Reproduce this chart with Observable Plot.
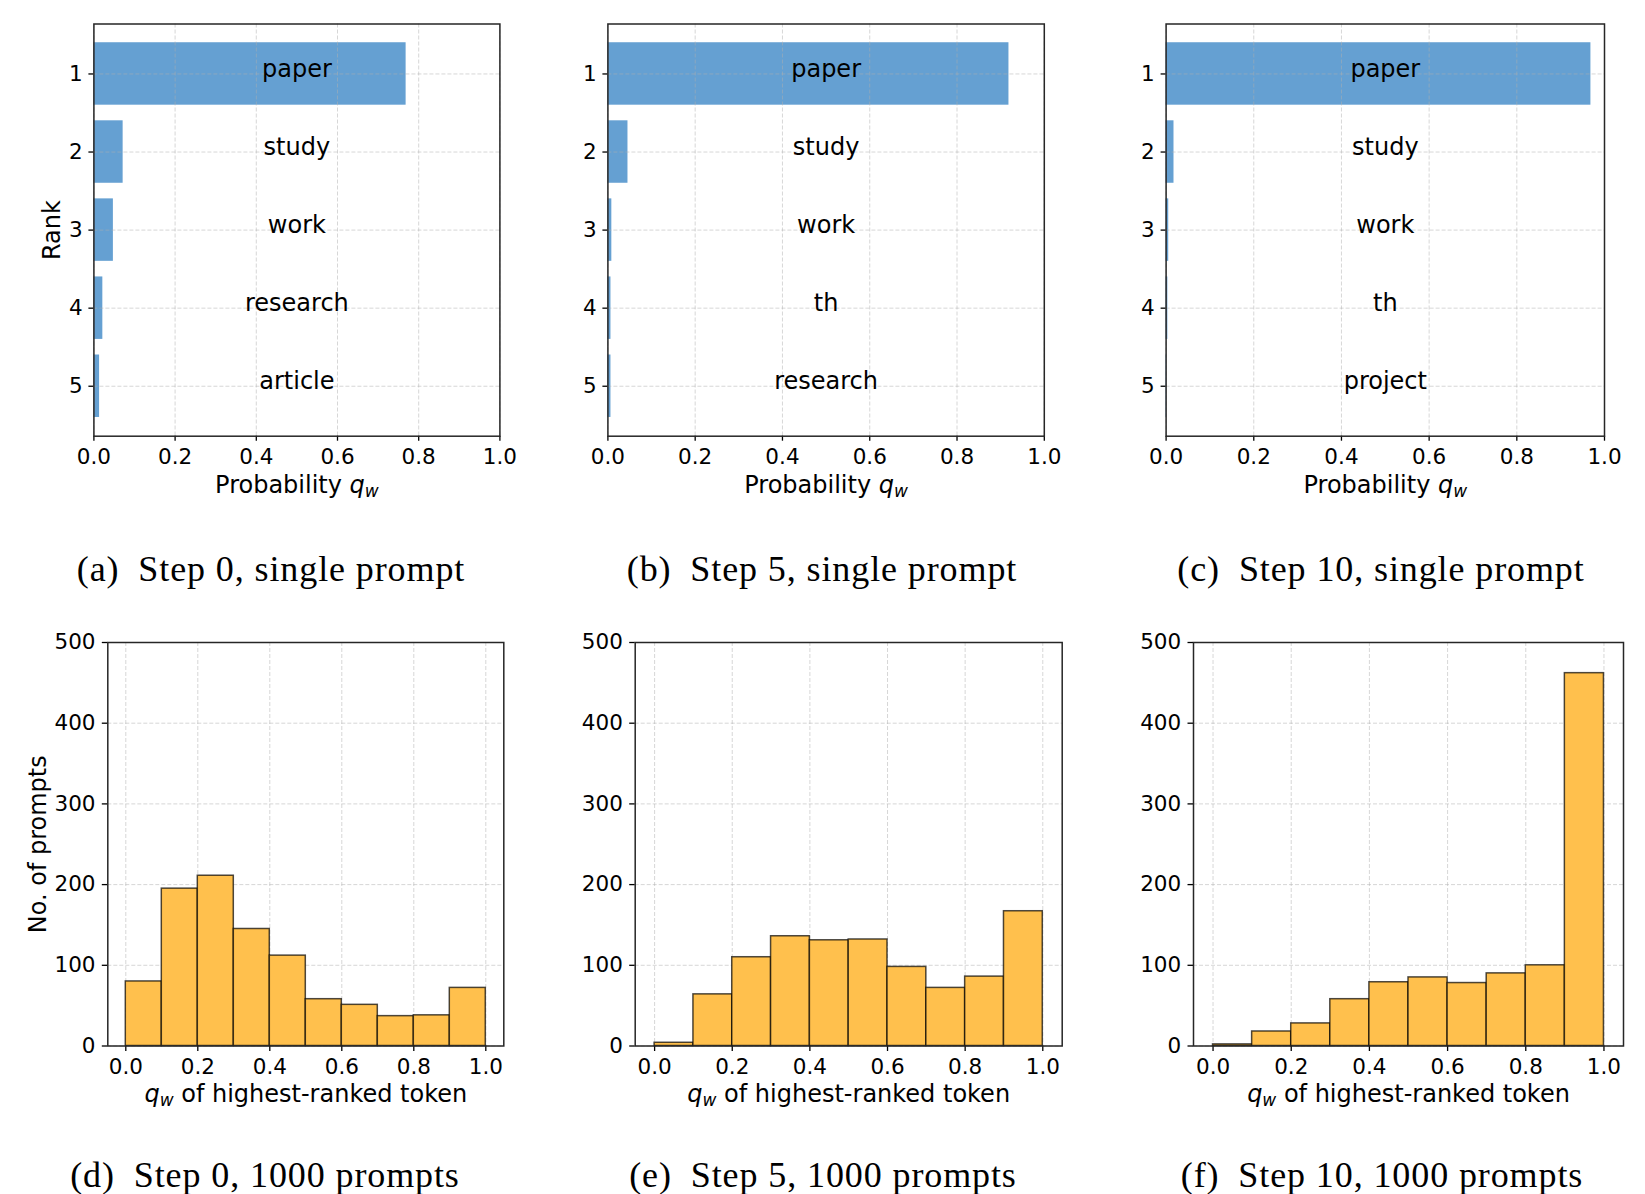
<!DOCTYPE html>
<html><head><meta charset="utf-8">
<script src="https://cdn.jsdelivr.net/npm/d3@7"></script>
<script src="https://cdn.jsdelivr.net/npm/@observablehq/plot@0.6"></script>
<style>
body{margin:0;background:#fff;}
#root{position:relative;width:1645px;height:1194px;background:#fff;overflow:hidden;}
.panel{position:absolute;}
.panel svg{overflow:visible;}
.cap{position:absolute;font-family:"Liberation Serif","Times New Roman",serif;font-size:36px;line-height:36px;letter-spacing:0.9px;white-space:pre;color:#000;transform:translateX(-50%);}
</style></head><body><div id="root"></div>
<script>
// ---------------- data ----------------
const ranks = [1, 2, 3, 4, 5];
const tokensStep0 = ["paper", "study", "work", "research", "article"];
const probsStep0 = [0.769, 0.072, 0.048, 0.022, 0.014];
const tokensStep5 = ["paper", "study", "work", "th", "research"];
const probsStep5 = [0.919, 0.046, 0.009, 0.007, 0.007];
const tokensStep10 = ["paper", "study", "work", "th", "project"];
const probsStep10 = [0.969, 0.018, 0.006, 0.004, 0.001];

const binStarts = [0.0, 0.1, 0.2, 0.3, 0.4, 0.5, 0.6, 0.7, 0.8, 0.9];
const binWidth = 0.1;
const countsStep0 = [80, 195, 211, 145, 112, 58, 51, 37, 38, 72];
const countsStep5 = [4, 64, 110, 136, 131, 132, 98, 72, 86, 167];
const countsStep10 = [2, 18, 28, 58, 79, 85, 78, 90, 100, 462];

const probTicks = [0.0, 0.2, 0.4, 0.6, 0.8, 1.0];
const countTicks = [0, 100, 200, 300, 400, 500];

const topXLabel = "Probability q_w";
const rankLabel = "Rank";
const bottomXLabel = "q_w of highest-ranked token";
const countLabel = "No. of prompts";
const topCaptions = ["(a)\u2002Step 0, single prompt", "(b)\u2002Step 5, single prompt", "(c)\u2002Step 10, single prompt"];
const bottomCaptions = ["(d)\u2002Step 0, 1000 prompts", "(e)\u2002Step 5, 1000 prompts", "(f)\u2002Step 10, 1000 prompts"];

// ---------------- style ----------------
const BLUE = "#65a0d2";
const ORANGE = "#ffc04d";
const GRID = {stroke: "#b0b0b0", strokeOpacity: 0.5, strokeDasharray: "4,2", strokeWidth: 1};
const FONT = "DejaVu Sans";

const root = document.getElementById("root");

function richLabel(svg) {
  const NS = "http://www.w3.org/2000/svg";
  svg.querySelectorAll("text").forEach(t => {
    const s = t.textContent;
    if (!s.includes("q_w")) return;
    const [pre, post] = s.split("q_w");
    while (t.firstChild) t.removeChild(t.firstChild);
    const add = (txt, attrs) => {
      const ts = document.createElementNS(NS, "tspan");
      for (const k in attrs) ts.setAttribute(k, attrs[k]);
      ts.textContent = txt;
      t.appendChild(ts);
    };
    if (pre) add(pre, {});
    add("q", {"font-style": "italic"});
    add("w", {"font-style": "italic", "font-size": "17", "dy": "4"});
    if (post) add(post, {"dy": "-4"});
  });
}

function place(svg, lay) {
  const div = document.createElement("div");
  div.className = "panel";
  div.style.left = lay.left + "px";
  div.style.top = lay.top + "px";
  div.appendChild(svg);
  root.appendChild(div);
  richLabel(svg);
}

function caption(text, cx, baseline) {
  const d = document.createElement("div");
  d.className = "cap";
  d.textContent = text;
  d.style.left = cx + "px";
  d.style.top = (baseline - 30) + "px";
  root.appendChild(d);
}

// ---------------- top: rank bars ----------------
const topLayouts = [
  {left: 0, top: 0, width: 520, height: 510, marginLeft: 93.4, marginRight: 20.6, marginTop: 23.5, marginBottom: 74.3, rankLabel: true},
  {left: 540, top: 0, width: 530, height: 510, marginLeft: 67.4, marginRight: 26.2, marginTop: 23.5, marginBottom: 74.3},
  {left: 1100, top: 0, width: 545, height: 510, marginLeft: 65.6, marginRight: 41, marginTop: 23.5, marginBottom: 74.3}
];
const topSeries = [[tokensStep0, probsStep0], [tokensStep5, probsStep5], [tokensStep10, probsStep10]];

topSeries.forEach(([tokens, probs], i) => {
  const lay = topLayouts[i];
  const data = ranks.map((r, j) => ({rank: r, token: tokens[j], p: probs[j]}));
  const marks = [
    Plot.rect(data, {x1: 0, x2: "p", y1: d => d.rank - 0.4, y2: d => d.rank + 0.4, fill: BLUE}),
    Plot.gridX(probTicks, GRID),
    Plot.gridY(ranks, GRID),
    Plot.text(data, {y: "rank", text: "token", fontSize: 24, textAnchor: "middle", lineAnchor: "bottom", dy: 3, fill: "#000"}),
    Plot.axisX(probTicks, {tickFormat: d3.format(".1f"), tickSize: 5, tickPadding: 7.4, strokeWidth: 1.3, label: null, fontSize: 21.5}),
    Plot.axisY(ranks, {tickFormat: d => String(d), tickSize: 5, tickPadding: 6.3, strokeWidth: 1.3, label: null, fontSize: 21.5}),
    Plot.text([topXLabel], {frameAnchor: "bottom", textAnchor: "middle", lineAnchor: "bottom", dy: 57, fontSize: 24, fill: "#000"}),
    Plot.frame({stroke: "#262626", strokeWidth: 1.5})
  ];
  if (lay.rankLabel) {
    marks.push(Plot.text([rankLabel], {frameAnchor: "left", rotate: -90, textAnchor: "middle", lineAnchor: "bottom", dx: -34.1, fontSize: 24, fill: "#000"}));
  }
  const svg = Plot.plot({
    width: lay.width, height: lay.height,
    marginLeft: lay.marginLeft, marginRight: lay.marginRight, marginTop: lay.marginTop, marginBottom: lay.marginBottom,
    style: {fontFamily: FONT, fontSize: "21px", color: "#000", background: "transparent"},
    x: {domain: [0, 1]},
    y: {domain: [0.36, 5.64], reverse: true},
    marks
  });
  place(svg, lay);
});

// ---------------- bottom: histograms ----------------
const bottomLayouts = [
  {left: 0, top: 600, width: 530, height: 510, marginLeft: 107.3, marginRight: 26.7, marginTop: 42, marginBottom: 64.5, countLabel: true},
  {left: 560, top: 600, width: 520, height: 510, marginLeft: 74.7, marginRight: 18.3, marginTop: 42, marginBottom: 64.5},
  {left: 1120, top: 600, width: 525, height: 510, marginLeft: 73, marginRight: 22, marginTop: 42, marginBottom: 64.5}
];
const bottomSeries = [countsStep0, countsStep5, countsStep10];

bottomSeries.forEach((counts, i) => {
  const lay = bottomLayouts[i];
  const data = binStarts.map((b, j) => ({x1: b, x2: b + binWidth, count: counts[j]}));
  const marks = [
    Plot.gridX(probTicks, GRID),
    Plot.gridY(countTicks, GRID),
    Plot.rect(data, {x1: "x1", x2: "x2", y1: 0, y2: "count", fill: ORANGE, stroke: "#000", strokeOpacity: 0.7, strokeWidth: 1.5}),
    Plot.axisX(probTicks, {tickFormat: d3.format(".1f"), tickSize: 5.5, tickPadding: 6.8, strokeWidth: 1.3, label: null, fontSize: 21.5}),
    Plot.axisY(countTicks, {tickFormat: d => String(d), tickSize: 5.5, tickPadding: 6.8, strokeWidth: 1.3, label: null, fontSize: 21.5}),
    Plot.text([bottomXLabel], {frameAnchor: "bottom", textAnchor: "middle", lineAnchor: "bottom", dy: 56, fontSize: 24, fill: "#000"}),
    Plot.frame({stroke: "#262626", strokeWidth: 1.5})
  ];
  if (lay.countLabel) {
    marks.push(Plot.text([countLabel], {frameAnchor: "left", rotate: -90, textAnchor: "middle", lineAnchor: "bottom", dx: -62.3, fontSize: 24, fill: "#000"}));
  }
  const svg = Plot.plot({
    width: lay.width, height: lay.height,
    marginLeft: lay.marginLeft, marginRight: lay.marginRight, marginTop: lay.marginTop, marginBottom: lay.marginBottom,
    style: {fontFamily: FONT, fontSize: "21px", color: "#000", background: "transparent"},
    x: {domain: [-0.05, 1.05]},
    y: {domain: [0, 500]},
    marks
  });
  place(svg, lay);
});

// ---------------- captions ----------------
const topCapCenters = [271, 822, 1381];
const bottomCapCenters = [265, 823, 1382];
topCaptions.forEach((c, i) => caption(c, topCapCenters[i], 581));
bottomCaptions.forEach((c, i) => caption(c, bottomCapCenters[i], 1187));
</script>
</body></html>
